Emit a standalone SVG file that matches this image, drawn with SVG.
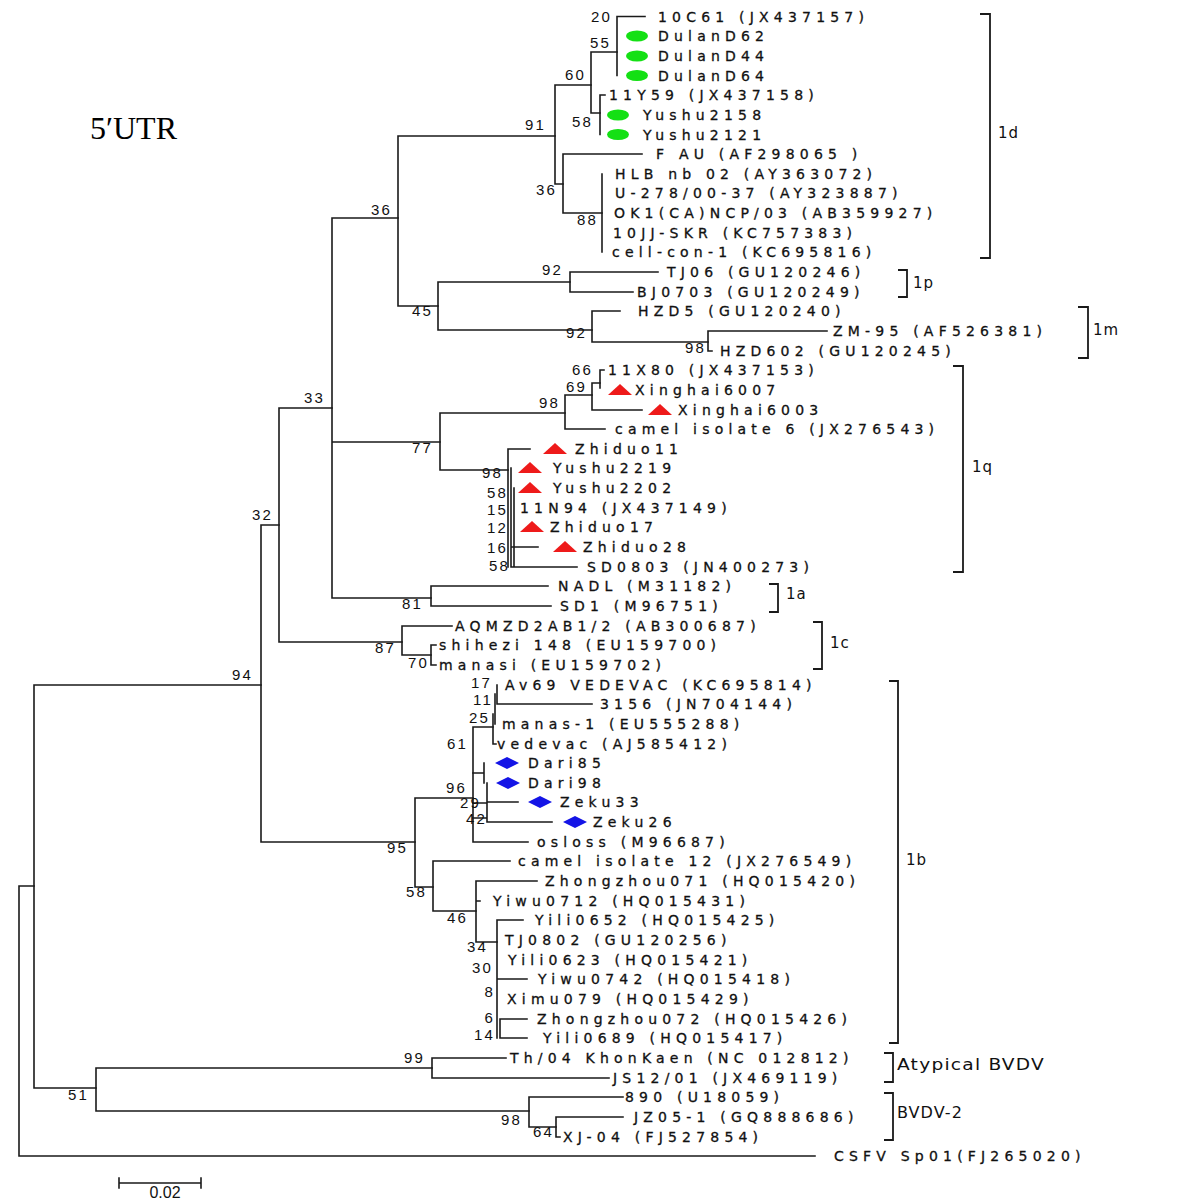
<svg xmlns="http://www.w3.org/2000/svg" xmlns:xlink="http://www.w3.org/1999/xlink" width="1200" height="1200" viewBox="0 0 1200 1200">
<style>
.br{fill:none;stroke:#1a1a1a;stroke-width:1.6;stroke-linecap:square}
.bk{fill:none;stroke:#1a1a1a;stroke-width:1.8}
.lf{font-family:"DejaVu Sans",sans-serif;font-size:14px;letter-spacing:5.2px;fill:#111;stroke:#111;stroke-width:0.3}
.bs{font-family:"Liberation Sans",sans-serif;font-size:15px;letter-spacing:2.2px;fill:#111;text-anchor:end}
.cl{font-family:"DejaVu Sans",sans-serif;font-size:15px;letter-spacing:1px;fill:#111}
.g{fill:#14e014;stroke:none}.r{fill:#ee1a1a;stroke:none}.b{fill:#1414e6;stroke:none}
</style>
<defs>
<ellipse id="dot" cx="0" cy="0" rx="11" ry="5.5"/>
<path id="tri" d="M-12,5 L12,5 L0,-6 Z"/>
<path id="dia" d="M-12,0 L0,-6 L12,0 L0,6 Z"/>
</defs>
<rect width="1200" height="1200" fill="#fff"/>
<text x="90" y="139" font-family="Liberation Serif,serif" font-size="32" fill="#000">5′UTR</text>

<g id="connectors" class="br">
<path d="M19 886V1156M19 886H34M19 1156H815"/>
<path d="M34 685V1088M34 685H261M34 1088H96"/>
<path d="M96 1068V1111M96 1068H432M96 1111H529"/>
<path d="M432 1058V1078M432 1058H506M432 1078H609"/>
<path d="M529 1097V1127M529 1097H623M529 1127H556"/>
<path d="M556 1117V1137M556 1117H623M556 1137H560"/>
<path d="M261 525V842M261 525H279M261 842H415"/>
<path d="M279 408V642M279 408H332M279 642H402"/>
<path d="M332 218V598M332 218H398M332 442H440M332 598H431"/>
<path d="M398 136V306M398 136H555M398 306H438"/>
<path d="M438 282V330M438 282H570M438 330H592"/>
<path d="M570 272V292M570 272H658M570 292H633"/>
<path d="M592 311V342M592 311H620M592 342H708"/>
<path d="M708 331V351M708 331H827M708 351H712"/>
<path d="M555 85V184M555 85H591M555 184H563"/>
<path d="M591 52V113M591 52H617M591 113H600"/>
<path d="M617 16.5V75.5M617 16.5H645"/>
<path d="M600 95V134.5M600 95H605"/>
<path d="M563 154V213M563 154H642M563 213H602"/>
<path d="M602 174V252"/>
<path d="M440 413V470M440 413H565M440 470H508"/>
<path d="M565 395V429M565 395H592M565 429H605"/>
<path d="M592 383V410M592 383H600M592 410H642"/>
<path d="M600 370V388M600 370H604"/>
<path d="M508 449V567M508 449H530M511 468V567M514 488V567M511 547H538M511 567H577"/>
<path d="M431 586V606M431 586H548M431 606H551"/>
<path d="M402 626V655M402 626H452M402 655H431"/>
<path d="M431 645V665M431 645H436M431 665H436"/>
<path d="M415 798V887M415 798H473M415 887H433"/>
<path d="M473 727V842M473 727H493M473 842H528"/>
<path d="M497 685V704M497 704H592M495 694V724M493 714V744M493 744H496"/>
<path d="M484 763V783M487 783V822M487 802H518M487 822H552M473 773H484M473 803H487M473 818H487"/>
<path d="M433 861V911M433 861H510M433 911H476"/>
<path d="M476 881V942M476 881H537M476 901H480M476 942H497"/>
<path d="M497 920V1038M497 920H523M497 979H527M500 1019V1038M500 1019H527M500 1038H527"/>
<path d="M119 1183H201M119 1178V1188M201 1178V1188"/>
</g>

<g id="bootstrap" class="bs">
<text x="612" y="21.5">20</text><text x="611" y="48">55</text><text x="586" y="80">60</text><text x="593" y="127">58</text>
<text x="546" y="130">91</text><text x="557" y="195">36</text><text x="598" y="225">88</text><text x="392" y="215">36</text>
<text x="563" y="275">92</text><text x="587" y="338">92</text><text x="706" y="353">98</text><text x="433" y="316">45</text>
<text x="325" y="403">33</text><text x="593" y="375">66</text><text x="587" y="392">69</text><text x="560" y="408">98</text>
<text x="433" y="453">77</text><text x="503" y="478">98</text><text x="508" y="498">58</text><text x="508" y="515">15</text>
<text x="508" y="533">12</text><text x="508" y="553">16</text><text x="510" y="571">58</text><text x="423" y="609">81</text>
<text x="396" y="653">87</text><text x="429" y="668">70</text><text x="273" y="520">32</text><text x="253" y="680">94</text>
<text x="492" y="688">17</text><text x="493" y="705">11</text><text x="490" y="723">25</text><text x="468" y="749">61</text>
<text x="467" y="793">96</text><text x="481" y="808">29</text><text x="487" y="824">42</text><text x="408" y="853">95</text>
<text x="427" y="897">58</text><text x="468" y="923">46</text><text x="488" y="952">34</text><text x="493" y="973">30</text>
<text x="495" y="997">8</text><text x="495" y="1023">6</text><text x="495" y="1040">14</text><text x="425" y="1063">99</text>
<text x="89" y="1100">51</text><text x="522" y="1125">98</text><text x="554" y="1137">64</text>
</g>

<g id="leaves" class="lf">
<g id="n-10C61"><text x="658" y="21.5">10C61 (JX437157)</text></g>
<g id="n-DulanD62"><use href="#dot" x="637" y="36" class="g"/><text x="658" y="41">DulanD62</text></g>
<g id="n-DulanD44"><use href="#dot" x="637" y="56" class="g"/><text x="658" y="61">DulanD44</text></g>
<g id="n-DulanD64"><use href="#dot" x="637" y="75.5" class="g"/><text x="658" y="80.5">DulanD64</text></g>
<g id="n-11Y59"><text x="609" y="100">11Y59 (JX437158)</text></g>
<g id="n-Yushu2158"><use href="#dot" x="618" y="115" class="g"/><text x="643" y="120">Yushu2158</text></g>
<g id="n-Yushu2121"><use href="#dot" x="618" y="134.5" class="g"/><text x="643" y="139.5">Yushu2121</text></g>
<g id="n-FAU"><text x="656" y="159">F AU (AF298065 )</text></g>
<g id="n-HLB"><text x="615" y="179">HLB nb 02 (AY363072)</text></g>
<g id="n-U278"><text x="615" y="198">U-278/00-37 (AY323887)</text></g>
<g id="n-OK1"><text x="614" y="218">OK1(CA)NCP/03 (AB359927)</text></g>
<g id="n-10JJ"><text x="613" y="238">10JJ-SKR (KC757383)</text></g>
<g id="n-cellcon"><text x="612" y="257">cell-con-1 (KC695816)</text></g>
<g id="n-TJ06"><text x="667" y="277">TJ06 (GU120246)</text></g>
<g id="n-BJ0703"><text x="637" y="297">BJ0703 (GU120249)</text></g>
<g id="n-HZD5"><text x="638" y="316">HZD5 (GU120240)</text></g>
<g id="n-ZM95"><text x="833" y="336">ZM-95 (AF526381)</text></g>
<g id="n-HZD602"><text x="720" y="356">HZD602 (GU120245)</text></g>
<g id="n-11X80"><text x="608" y="375">11X80 (JX437153)</text></g>
<g id="n-Xinghai6007"><use href="#tri" x="620" y="390" class="r"/><text x="635" y="395">Xinghai6007</text></g>
<g id="n-Xinghai6003"><use href="#tri" x="660" y="410" class="r"/><text x="678" y="415">Xinghai6003</text></g>
<g id="n-camel6"><text x="615" y="434">camel isolate 6 (JX276543)</text></g>
<g id="n-Zhiduo11"><use href="#tri" x="555" y="449" class="r"/><text x="575" y="454">Zhiduo11</text></g>
<g id="n-Yushu2219"><use href="#tri" x="530" y="468" class="r"/><text x="553" y="473">Yushu2219</text></g>
<g id="n-Yushu2202"><use href="#tri" x="530" y="488" class="r"/><text x="553" y="493">Yushu2202</text></g>
<g id="n-11N94"><text x="520" y="513">11N94 (JX437149)</text></g>
<g id="n-Zhiduo17"><use href="#tri" x="532" y="527" class="r"/><text x="550" y="532">Zhiduo17</text></g>
<g id="n-Zhiduo28"><use href="#tri" x="565" y="547" class="r"/><text x="583" y="552">Zhiduo28</text></g>
<g id="n-SD0803"><text x="587" y="572">SD0803 (JN400273)</text></g>
<g id="n-NADL"><text x="558" y="591">NADL (M31182)</text></g>
<g id="n-SD1"><text x="560" y="611">SD1 (M96751)</text></g>
<g id="n-AQMZD"><text x="455" y="631">AQMZD2AB1/2 (AB300687)</text></g>
<g id="n-shihezi"><text x="439" y="650">shihezi 148 (EU159700)</text></g>
<g id="n-manasi"><text x="439" y="670">manasi (EU159702)</text></g>
<g id="n-Av69"><text x="505" y="690">Av69 VEDEVAC (KC695814)</text></g>
<g id="n-3156"><text x="600" y="709">3156 (JN704144)</text></g>
<g id="n-manas1"><text x="502" y="729">manas-1 (EU555288)</text></g>
<g id="n-vedevac"><text x="497" y="749">vedevac (AJ585412)</text></g>
<g id="n-Dari85"><use href="#dia" x="507" y="763" class="b"/><text x="528" y="768">Dari85</text></g>
<g id="n-Dari98"><use href="#dia" x="508" y="783" class="b"/><text x="528" y="788">Dari98</text></g>
<g id="n-Zeku33"><use href="#dia" x="540" y="802" class="b"/><text x="560" y="807">Zeku33</text></g>
<g id="n-Zeku26"><use href="#dia" x="575" y="822" class="b"/><text x="593" y="827">Zeku26</text></g>
<g id="n-osloss"><text x="537" y="847">osloss (M96687)</text></g>
<g id="n-camel12"><text x="518" y="866">camel isolate 12 (JX276549)</text></g>
<g id="n-Zhongzhou071"><text x="545" y="886">Zhongzhou071 (HQ015420)</text></g>
<g id="n-Yiwu0712"><text x="493" y="906">Yiwu0712 (HQ015431)</text></g>
<g id="n-Yili0652"><text x="535" y="925">Yili0652 (HQ015425)</text></g>
<g id="n-TJ0802"><text x="505" y="945">TJ0802 (GU120256)</text></g>
<g id="n-Yili0623"><text x="508" y="965">Yili0623 (HQ015421)</text></g>
<g id="n-Yiwu0742"><text x="538" y="984">Yiwu0742 (HQ015418)</text></g>
<g id="n-Ximu079"><text x="507" y="1004">Ximu079 (HQ015429)</text></g>
<g id="n-Zhongzhou072"><text x="537" y="1024">Zhongzhou072 (HQ015426)</text></g>
<g id="n-Yili0689"><text x="543" y="1043">Yili0689 (HQ015417)</text></g>
<g id="n-Th04"><text x="510" y="1063">Th/04 KhonKaen (NC 012812)</text></g>
<g id="n-JS1201"><text x="613" y="1083">JS12/01 (JX469119)</text></g>
<g id="n-890"><text x="625" y="1102">890 (U18059)</text></g>
<g id="n-JZ051"><text x="634" y="1122">JZ05-1 (GQ888686)</text></g>
<g id="n-XJ04"><text x="563" y="1142">XJ-04 (FJ527854)</text></g>
<g id="n-CSFV"><text x="834" y="1161">CSFV Sp01(FJ265020)</text></g>
</g>

<g id="clades">
<g id="c-1d"><path class="bk" d="M980 14H990V258H980"/><text class="cl" x="998" y="138">1d</text></g>
<g id="c-1p"><path class="bk" d="M898 270H907V297H898"/><text class="cl" x="913" y="288">1p</text></g>
<g id="c-1m"><path class="bk" d="M1078 307H1088V358H1078"/><text class="cl" x="1093" y="335">1m</text></g>
<g id="c-1q"><path class="bk" d="M953 366H963V572H953"/><text class="cl" x="972" y="472">1q</text></g>
<g id="c-1a"><path class="bk" d="M769 584H778V612H769"/><text class="cl" x="786" y="599">1a</text></g>
<g id="c-1c"><path class="bk" d="M813 622H822V669H813"/><text class="cl" x="830" y="648">1c</text></g>
<g id="c-1b"><path class="bk" d="M889 681H898V1043H889"/><text class="cl" x="906" y="865">1b</text></g>
<g id="c-atyp"><path class="bk" d="M884 1053H893V1082H884"/><text class="cl" x="897" y="1070" textLength="148" lengthAdjust="spacingAndGlyphs">Atypical BVDV</text></g>
<g id="c-bvdv2"><path class="bk" d="M884 1093H893V1140H884"/><text class="cl" x="897" y="1118" textLength="66" lengthAdjust="spacingAndGlyphs">BVDV-2</text></g>
</g>
<g id="scale"><text x="165" y="1198" font-family="Liberation Sans,sans-serif" font-size="16" text-anchor="middle" fill="#111">0.02</text></g>
</svg>
